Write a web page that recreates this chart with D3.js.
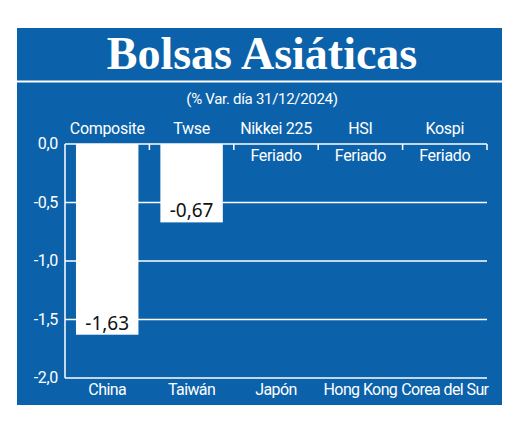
<!doctype html>
<html>
  <head>
    <meta charset="utf-8">
    <script src="https://cdnjs.cloudflare.com/ajax/libs/d3/7.8.5/d3.min.js"></script>
    <style>
      body { margin: 0; background: #ffffff; }
      svg text { fill: #ffffff; }
      .cond { font-family: Roboto, "Open Sans", sans-serif; letter-spacing: -0.3px; }
      .bottomLbl { letter-spacing: -0.6px; }
      .title { font-family: "Liberation Serif", serif; font-weight: bold; }
      .valLabel { font-family: "Noto Sans", sans-serif; }
    </style>
  </head>
  <body>
    <div id="chart"></div>
    <script>
      // data
      var indices   = ["Composite", "Twse", "Nikkei 225", "HSI", "Kospi"];
      var countries = ["China", "Taiwán", "Japón", "Hong Kong", "Corea del Sur"];
      var values    = [-1.63, -0.67, null, null, null];
      var notes     = ["", "", "Feriado", "Feriado", "Feriado"];
      var yTicks    = [0, -0.5, -1, -1.5, -2];

      var W = 520, H = 426;
      var blue = "#0c62aa";

      var svg = d3.select("#chart").append("svg")
          .attr("width", W)
          .attr("height", H);

      // panel
      svg.append("rect")
          .attr("x", 17).attr("y", 28)
          .attr("width", 485).attr("height", 377)
          .attr("fill", blue);

      svg.append("line")
          .attr("x1", 17).attr("x2", 502)
          .attr("y1", 81.5).attr("y2", 81.5)
          .attr("stroke", "#ffffff").attr("stroke-width", 2);

      svg.append("text")
          .attr("class", "title")
          .attr("x", 262).attr("y", 69)
          .attr("text-anchor", "middle")
          .attr("font-size", 46)
          .text("Bolsas Asiáticas");

      svg.append("text")
          .attr("class", "cond")
          .attr("x", 262).attr("y", 104)
          .attr("text-anchor", "middle")
          .attr("font-size", 15)
          .text("(% Var. día 31/12/2024)");

      var plotL = 65, plotR = 487, plotT = 144, plotB = 378;

      var cell = d3.scaleBand().domain(countries).range([plotL, plotR]).padding(0);
      var x = d3.scaleBand().domain(countries).range([plotL, plotR])
          .paddingInner(0.26).paddingOuter(0.13);
      var y = d3.scaleLinear().domain([-2, 0]).range([plotB, plotT]);

      // gridlines
      svg.append("g").selectAll("line")
          .data(yTicks)
          .enter().append("line")
            .attr("x1", plotL).attr("x2", plotR)
            .attr("y1", d => y(d)).attr("y2", d => y(d))
            .attr("stroke", "#ffffff").attr("stroke-width", 1.5);

      // y axis line
      svg.append("line")
          .attr("x1", plotL).attr("x2", plotL)
          .attr("y1", plotT).attr("y2", plotB)
          .attr("stroke", "#ffffff").attr("stroke-width", 1.5);

      // small separators hanging from the top line
      svg.append("g").selectAll("line")
          .data(countries)
          .enter().append("line")
            .attr("x1", d => cell(d) + cell.bandwidth())
            .attr("x2", d => cell(d) + cell.bandwidth())
            .attr("y1", plotT).attr("y2", plotT + 6)
            .attr("stroke", "#ffffff").attr("stroke-width", 1.5);

      // y tick labels
      svg.append("g").selectAll("text")
          .data(yTicks)
          .enter().append("text")
            .attr("class", "cond")
            .attr("x", plotL - 7)
            .attr("y", d => y(d) + 5)
            .attr("text-anchor", "end")
            .attr("font-size", 16)
            .text(d => d3.format(".1f")(d).replace(".", ",").replace("−", "-"));

      // bars
      var rows = countries.map((c, i) => ({ c: c, v: values[i], idx: indices[i], note: notes[i] }));

      svg.append("g").selectAll("rect")
          .data(rows.filter(d => d.v != null))
          .enter().append("rect")
            .attr("x", d => x(d.c))
            .attr("width", x.bandwidth())
            .attr("y", y(0))
            .attr("height", d => y(d.v) - y(0))
            .attr("fill", "#ffffff");

      svg.append("g").selectAll("text")
          .data(rows.filter(d => d.v != null))
          .enter().append("text")
            .attr("class", "valLabel")
            .attr("x", d => x(d.c) + x.bandwidth() / 2)
            .attr("y", d => y(d.v) - 5)
            .attr("text-anchor", "middle")
            .attr("font-size", 19)
            .style("fill", "#111111")
            .text(d => d3.format(".2f")(d.v).replace(".", ",").replace("−", "-"));

      // index names on top
      svg.append("g").selectAll("text")
          .data(rows)
          .enter().append("text")
            .attr("class", "cond")
            .attr("x", d => cell(d.c) + cell.bandwidth() / 2)
            .attr("y", 134)
            .attr("text-anchor", "middle")
            .attr("font-size", 16)
            .text(d => d.idx);

      // holiday notes
      svg.append("g").selectAll("text")
          .data(rows.filter(d => d.note))
          .enter().append("text")
            .attr("class", "cond")
            .attr("x", d => cell(d.c) + cell.bandwidth() / 2)
            .attr("y", 161)
            .attr("text-anchor", "middle")
            .attr("font-size", 16)
            .text(d => d.note);

      // country names under the axis
      svg.append("g").selectAll("text")
          .data(countries)
          .enter().append("text")
            .attr("class", "cond bottomLbl")
            .attr("x", d => cell(d) + cell.bandwidth() / 2)
            .attr("y", 395)
            .attr("text-anchor", "middle")
            .attr("font-size", 16)
            .text(d => d);
    </script>
  </body>
</html>
